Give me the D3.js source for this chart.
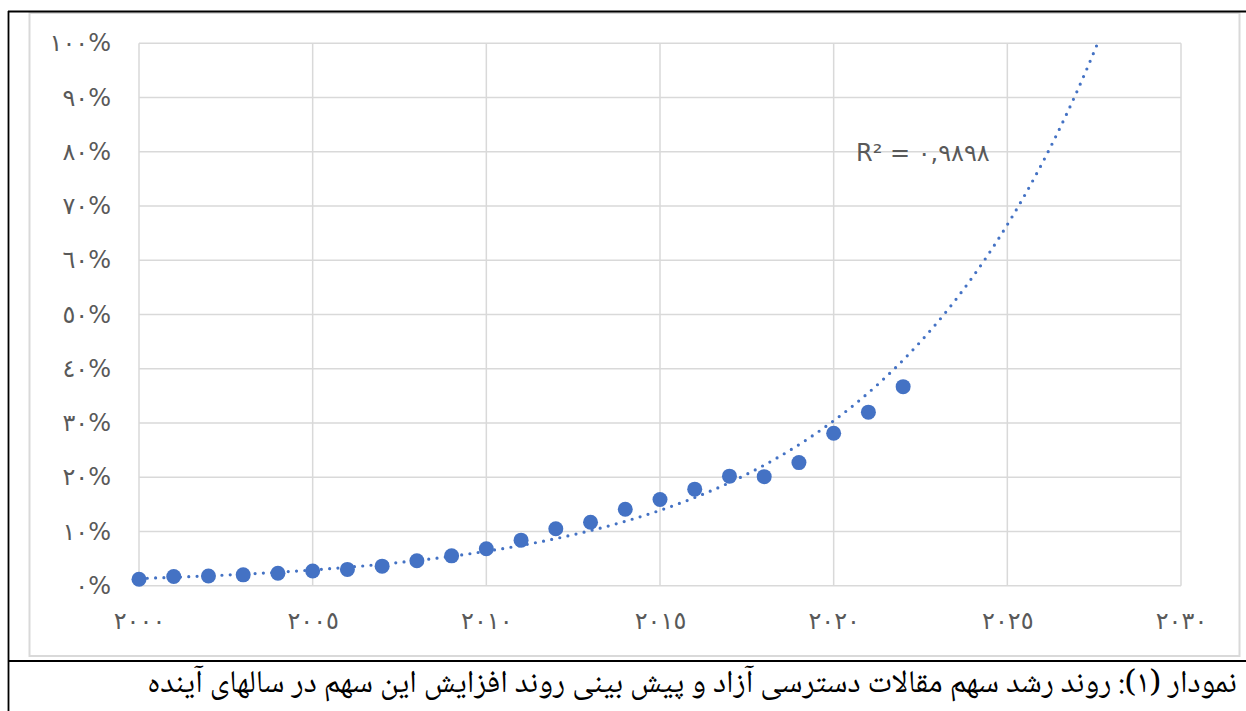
<!DOCTYPE html>
<html>
<head>
<meta charset="utf-8">
<script src="https://cdn.jsdelivr.net/npm/d3@7"></script>
<style>
  body { margin: 0; background: #fff; }
  svg { display: block; }
</style>
</head>
<body>
<div id="chart"></div>
<script>
// Data (share of open access, %)
var years = [2000, 2001, 2002, 2003, 2004, 2005, 2006, 2007, 2008, 2009, 2010, 2011,
  2012, 2013, 2014, 2015, 2016, 2017, 2018, 2019, 2020, 2021, 2022];
var shares = [1.2, 1.7, 1.8, 2.0, 2.3, 2.7, 3.0, 3.6, 4.6, 5.5, 6.8, 8.4,
  10.5, 11.7, 14.1, 15.9, 17.8, 20.2, 20.1, 22.7, 28.1, 32.0, 36.7];

// Tick values and labels (Arabic-Indic digits as in the original)
var xTicks = [2000, 2005, 2010, 2015, 2020, 2025, 2030];
var xTickLabels = ["٢٠٠٠", "٢٠٠٥", "٢٠١٠", "٢٠١٥", "٢٠٢٠", "٢٠٢٥", "٢٠٣٠"];
var yTicks = [0, 10, 20, 30, 40, 50, 60, 70, 80, 90, 100];
var yTickLabels = ["٠%", "١٠%", "٢٠%", "٣٠%", "٤٠%", "٥٠%", "٦٠%", "٧٠%", "٨٠%", "٩٠%", "١٠٠%"];

var r2Label = "R² = ٠,٩٨٩٨";
var caption = "نمودار (١): روند رشد سهم مقالات دسترسی آزاد و پیش بینی روند افزایش این سهم در سالهای آینده";

// Size
var svgWidth = 1246;
var svgHeight = 711;

// plot area inside the chart box
var plot = { left: 139, right: 1181, top: 43.3, bottom: 585.7 };

var svg = d3.select("#chart")
  .append("svg")
  .attr("width", svgWidth)
  .attr("height", svgHeight);

// Scales
var xScale = d3.scaleLinear()
  .domain([2000, 2030])
  .range([plot.left, plot.right]);

var yScale = d3.scaleLinear()
  .domain([0, 100])
  .range([plot.bottom, plot.top]);

// outer table frame (black) and chart box (light grey)
svg.append("rect")
  .attr("x", 29.5).attr("y", 13)
  .attr("width", 1210).attr("height", 643)
  .attr("fill", "none")
  .attr("stroke", "#d9d9d9")
  .attr("stroke-width", 2);

svg.append("line").attr("x1", 8).attr("x2", 1246).attr("y1", 11.5).attr("y2", 11.5)
  .attr("stroke", "#000").attr("stroke-width", 1.8);
svg.append("line").attr("x1", 8.5).attr("x2", 8.5).attr("y1", 11).attr("y2", 711)
  .attr("stroke", "#000").attr("stroke-width", 1.8);
svg.append("line").attr("x1", 8).attr("x2", 1246).attr("y1", 661).attr("y2", 661)
  .attr("stroke", "#000").attr("stroke-width", 1.8);

// Gridlines
var grid = svg.append("g").attr("class", "grid");

grid.selectAll(".hgrid")
  .data(yTicks)
  .enter()
  .append("line")
  .attr("x1", plot.left)
  .attr("x2", plot.right)
  .attr("y1", d => yScale(d))
  .attr("y2", d => yScale(d))
  .attr("stroke", "#d9d9d9")
  .attr("stroke-width", 1.5);

grid.selectAll(".vgrid")
  .data(xTicks)
  .enter()
  .append("line")
  .attr("x1", d => xScale(d))
  .attr("x2", d => xScale(d))
  .attr("y1", plot.top)
  .attr("y2", plot.bottom)
  .attr("stroke", "#d9d9d9")
  .attr("stroke-width", 1.5);

// Axes (labels only)
var leftAxis = d3.axisLeft(yScale)
  .tickValues(yTicks)
  .tickSize(0)
  .tickPadding(28)
  .tickFormat((d, i) => yTickLabels[i]);

var bottomAxis = d3.axisBottom(xScale)
  .tickValues(xTicks)
  .tickSize(0)
  .tickPadding(26)
  .tickFormat((d, i) => xTickLabels[i]);

var yAxisG = svg.append("g")
  .attr("transform", `translate(${plot.left}, 0)`)
  .call(leftAxis);

var xAxisG = svg.append("g")
  .attr("transform", `translate(0, ${plot.bottom})`)
  .call(bottomAxis);

[yAxisG, xAxisG].forEach(function (g) {
  g.select(".domain").remove();
  g.selectAll("text")
    .style("font-family", "'Segoe UI', 'DejaVu Sans', sans-serif")
    .style("font-size", "24px")
    .style("fill", "#595959")
    .style("direction", "ltr")
    .style("unicode-bidi", "embed");
});

// Exponential trendline (least squares on ln y, like Excel)
var mx = d3.mean(years);
var my = d3.mean(shares, d => Math.log(d));
var sxy = d3.sum(years, (t, i) => (t - mx) * (Math.log(shares[i]) - my));
var sxx = d3.sum(years, t => (t - mx) * (t - mx));
var b = sxy / sxx;
var a = my - b * mx;
var trendYears = d3.range(2000, 2030.01, 0.05);

svg.append("clipPath")
  .attr("id", "plotClip")
  .append("rect")
  .attr("x", plot.left)
  .attr("y", plot.top)
  .attr("width", plot.right - plot.left)
  .attr("height", plot.bottom - plot.top);

var trendLine = d3.line()
  .x(d => xScale(d))
  .y(d => yScale(Math.exp(a + b * d)));

svg.append("path")
  .datum(trendYears)
  .attr("clip-path", "url(#plotClip)")
  .attr("d", trendLine)
  .attr("fill", "none")
  .attr("stroke", "#4472c4")
  .attr("stroke-width", 3.2)
  .attr("stroke-linecap", "round")
  .attr("stroke-dasharray", "0 8.3");

// Points
svg.selectAll("circle.pt")
  .data(years)
  .enter()
  .append("circle")
  .attr("class", "pt")
  .attr("cx", d => xScale(d))
  .attr("cy", (d, i) => yScale(shares[i]))
  .attr("r", 7.5)
  .attr("fill", "#4472c4");

// R squared label
svg.append("text")
  .attr("x", 856)
  .attr("y", 161)
  .style("font-family", "'Segoe UI', 'DejaVu Sans', sans-serif")
  .style("font-size", "24px")
  .style("fill", "#595959")
  .style("direction", "ltr")
  .style("unicode-bidi", "embed")
  .text(r2Label);

// Caption - sized so it spans about the same width as the original line
var cap = svg.append("text")
  .attr("x", 1237)
  .attr("y", 692)
  .attr("text-anchor", "start")
  .style("direction", "rtl")
  .style("unicode-bidi", "embed")
  .style("font-family", "'B Nazanin', 'Noto Naskh Arabic', 'DejaVu Sans', serif")
  .style("font-size", "24px")
  .style("fill", "#000")
  .text(caption);

var capLen = cap.node().getComputedTextLength();
cap.style("font-size", (24 * 1090 / capLen).toFixed(2) + "px");
</script>
</body>
</html>
